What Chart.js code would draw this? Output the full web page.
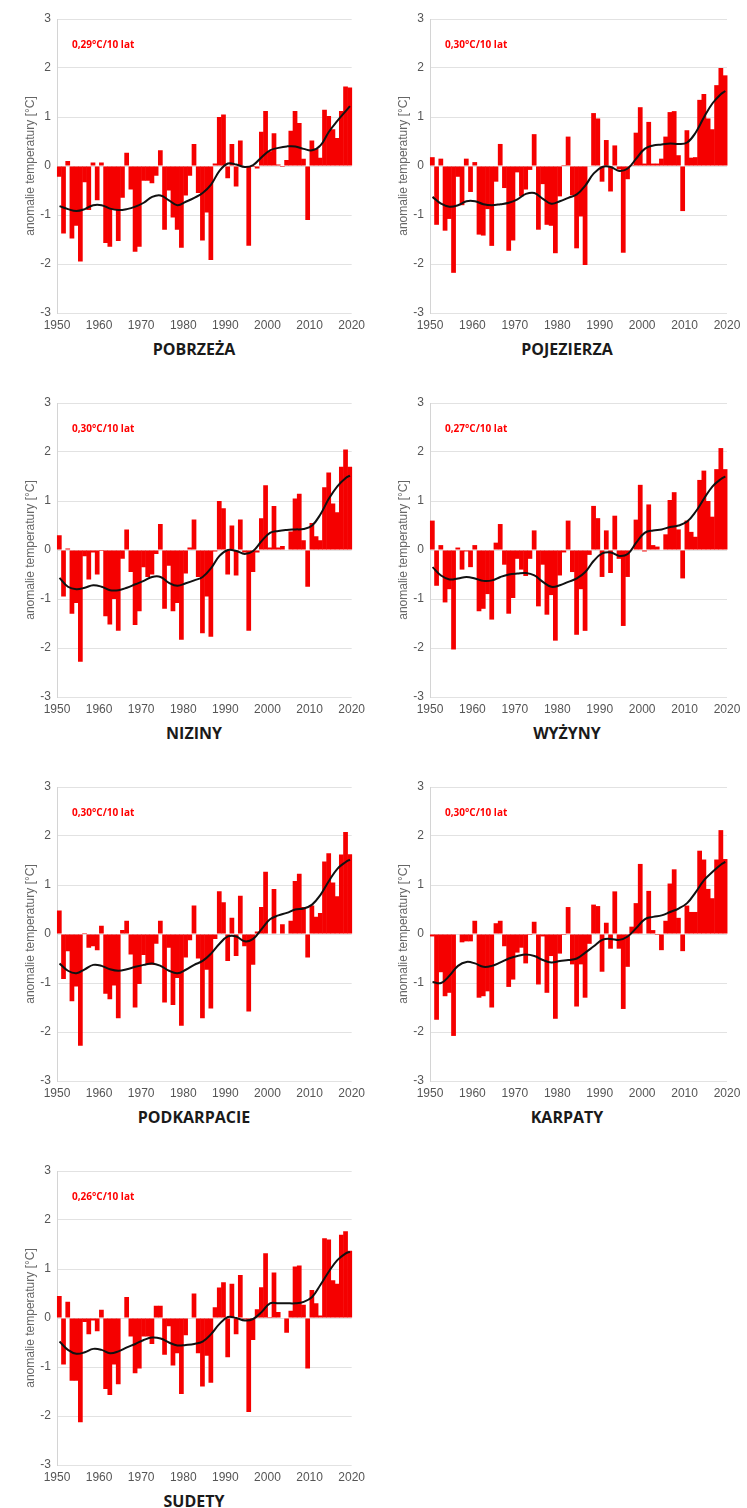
<!DOCTYPE html>
<html><head><meta charset="utf-8">
<script src="https://cdn.jsdelivr.net/npm/chart.js@4.4.1/dist/chart.umd.min.js"></script>
<style>
body{margin:0;background:#fff;width:747px;height:1508px;position:relative;overflow:hidden;font-family:'Open Sans',sans-serif}
.panel{position:absolute}
.panel canvas{display:block}
.title{position:absolute;font-weight:700;font-size:16px;color:#1a1a1a;transform:translate(-50%,-50%);white-space:nowrap;font-family:'Open Sans',sans-serif}
.trend{position:absolute;font-weight:700;font-size:10px;color:#f00;transform:translateY(-50%);white-space:nowrap;font-family:'Open Sans',sans-serif}
</style></head><body>
<script>
const years = [1951,1952,1953,1954,1955,1956,1957,1958,1959,1960,
1961,1962,1963,1964,1965,1966,1967,1968,1969,1970,
1971,1972,1973,1974,1975,1976,1977,1978,1979,1980,
1981,1982,1983,1984,1985,1986,1987,1988,1989,1990,
1991,1992,1993,1994,1995,1996,1997,1998,1999,2000,
2001,2002,2003,2004,2005,2006,2007,2008,2009,2010,
2011,2012,2013,2014,2015,2016,2017,2018,2019,2020];
const smoothYears = [1951,1953,1955,1957,1959,1961,1963,1965,1967,1969,1971,1973,1975,1977,1979,1981,1983,1985,1987,1989,1991,1993,1995,1997,1999,2001,2003,2005,2007,2009,2011,2013,2015,2017,2019,2020];
const xTicks = [1950,1960,1970,1980,1990,2000,2010,2020];
const yTicks = [-3,-2,-1,0,1,2,3];

const regionNames = ['POBRZEŻA','POJEZIERZA','NIZINY','WYŻYNY','PODKARPACIE','KARPATY','SUDETY'];
const trendLabels = ['0,29°C/10 lat','0,30°C/10 lat','0,30°C/10 lat','0,27°C/10 lat','0,30°C/10 lat','0,30°C/10 lat','0,26°C/10 lat'];

const pobrzezaAnom = [-0.22,-1.38,0.10,-1.48,-1.22,-1.95,-0.33,-0.90,0.07,-0.70,
 0.07,-1.57,-1.65,-0.88,-1.53,-0.65,0.27,-0.48,-1.75,-1.65,
 -0.30,-0.30,-0.35,-0.20,0.32,-1.30,-0.50,-1.05,-1.30,-1.67,
 -0.60,-0.20,0.45,-0.55,-1.52,-0.95,-1.92,0.05,1.00,1.05,
 -0.25,0.45,-0.42,0.52,-0.02,-1.63,-0.02,-0.05,0.70,1.12,
 0.30,0.67,0.03,-0.02,0.12,0.72,1.12,0.88,0.15,-1.10,
 0.52,0.35,0.17,1.15,1.02,0.75,0.57,1.12,1.62,1.60];
const pobrzezaSmooth = [-0.82,-0.88,-0.92,-0.88,-0.80,-0.80,-0.87,-0.90,-0.88,-0.83,-0.75,-0.63,-0.60,-0.70,-0.80,-0.73,-0.65,-0.55,-0.38,-0.10,0.05,0.03,-0.02,0.02,0.18,0.32,0.37,0.40,0.40,0.35,0.32,0.42,0.70,0.92,1.12,1.22];

const pojezierzaAnom = [0.18,-1.20,0.15,-1.32,-1.08,-2.18,-0.22,-0.80,0.15,-0.53,
 0.08,-1.40,-1.42,-0.88,-1.63,-0.32,0.45,-0.45,-1.73,-1.52,
 -0.13,-0.62,-0.48,-0.08,0.65,-1.30,-0.37,-1.20,-1.22,-1.78,
 -0.62,0.02,0.60,-0.60,-1.68,-1.03,-2.02,0.00,1.08,0.97,
 -0.32,0.53,-0.52,0.42,-0.07,-1.77,-0.27,0.02,0.68,1.20,
 0.05,0.90,0.05,0.05,0.15,0.60,1.10,1.12,0.22,-0.92,
 0.73,0.17,0.18,1.35,1.47,0.97,0.75,1.65,2.00,1.85];
const pojezierzaSmooth = [-0.63,-0.77,-0.83,-0.80,-0.72,-0.72,-0.78,-0.80,-0.78,-0.75,-0.68,-0.57,-0.55,-0.67,-0.77,-0.72,-0.65,-0.58,-0.40,-0.15,-0.02,-0.02,-0.10,-0.05,0.15,0.35,0.42,0.44,0.46,0.45,0.48,0.68,1.00,1.28,1.47,1.53];

const nizinyAnom = [0.30,-0.95,0.03,-1.30,-1.08,-2.28,-0.13,-0.60,-0.05,-0.50,
 -0.02,-1.35,-1.52,-1.00,-1.65,-0.18,0.42,-0.45,-1.53,-1.25,
 -0.35,-0.55,-0.50,-0.08,0.53,-1.20,-0.32,-1.25,-1.08,-1.83,
 -0.48,0.05,0.62,-0.55,-1.70,-0.95,-1.77,-0.03,1.00,0.85,
 -0.50,0.50,-0.52,0.62,-0.05,-1.65,-0.45,-0.05,0.65,1.32,
 0.05,0.90,0.05,0.08,0.00,0.38,1.05,1.15,0.20,-0.75,
 0.55,0.28,0.20,1.28,1.58,0.95,0.77,1.70,2.05,1.70];
const nizinySmooth = [-0.57,-0.75,-0.80,-0.77,-0.72,-0.75,-0.82,-0.82,-0.77,-0.70,-0.63,-0.55,-0.55,-0.67,-0.73,-0.68,-0.62,-0.55,-0.37,-0.12,0.00,-0.02,-0.08,-0.02,0.18,0.35,0.39,0.41,0.42,0.43,0.50,0.73,1.05,1.30,1.47,1.52];

const wyzynyAnom = [0.60,-0.73,0.10,-1.07,-0.80,-2.03,0.05,-0.40,-0.03,-0.35,
 0.10,-1.25,-1.20,-0.90,-1.42,0.15,0.53,-0.30,-1.30,-0.98,
 -0.18,-0.40,-0.53,-0.18,0.40,-1.15,-0.30,-1.32,-0.92,-1.85,
 -0.52,-0.05,0.60,-0.45,-1.73,-0.80,-1.65,-0.10,0.90,0.65,
 -0.55,0.40,-0.47,0.70,-0.18,-1.55,-0.55,0.00,0.62,1.33,
 -0.03,0.93,0.10,0.07,0.00,0.32,1.02,1.18,0.42,-0.58,
 0.60,0.37,0.27,1.43,1.62,1.00,0.68,1.65,2.08,1.65];
const wyzynySmooth = [-0.35,-0.52,-0.60,-0.58,-0.55,-0.58,-0.63,-0.62,-0.55,-0.50,-0.48,-0.47,-0.52,-0.65,-0.75,-0.72,-0.65,-0.58,-0.45,-0.22,-0.07,-0.05,-0.12,-0.08,0.15,0.35,0.40,0.42,0.47,0.50,0.58,0.78,1.05,1.30,1.45,1.50];

const podkarpacieAnom = [0.48,-0.92,-0.35,-1.37,-1.07,-2.28,0.02,-0.28,-0.25,-0.33,
 0.17,-1.22,-1.33,-1.05,-1.72,0.08,0.27,-0.42,-1.50,-1.02,
 -0.43,-0.62,-0.63,-0.20,0.27,-1.40,-0.28,-1.45,-0.90,-1.87,
 -0.48,-0.13,0.58,-0.50,-1.72,-0.73,-1.52,-0.10,0.87,0.65,
 -0.55,0.33,-0.45,0.78,-0.25,-1.58,-0.63,0.05,0.55,1.27,
 0.00,0.92,0.00,0.20,0.00,0.27,1.08,1.23,0.55,-0.48,
 0.58,0.35,0.43,1.48,1.65,1.05,0.77,1.62,2.08,1.63];
const podkarpacieSmooth = [-0.60,-0.75,-0.80,-0.72,-0.63,-0.65,-0.72,-0.75,-0.72,-0.67,-0.63,-0.60,-0.65,-0.75,-0.80,-0.73,-0.63,-0.55,-0.40,-0.20,-0.05,-0.05,-0.15,-0.10,0.10,0.30,0.38,0.43,0.50,0.52,0.60,0.80,1.08,1.33,1.47,1.52];

const karpatyAnom = [-0.05,-1.75,-0.78,-1.27,-1.20,-2.08,0.00,-0.17,-0.15,-0.15,
 0.27,-1.30,-1.27,-1.17,-1.50,0.22,0.27,-0.25,-1.08,-0.93,
 -0.38,-0.28,-0.60,-0.02,0.25,-1.03,-0.05,-1.20,-0.45,-1.73,
 -0.40,-0.02,0.55,-0.62,-1.48,-0.62,-1.30,-0.20,0.60,0.57,
 -0.77,0.23,-0.30,0.87,-0.30,-1.53,-0.67,0.15,0.63,1.43,
 0.00,0.88,0.08,-0.02,-0.33,0.27,1.03,1.32,0.33,-0.35,
 0.58,0.45,0.45,1.70,1.52,0.92,0.73,1.52,2.12,1.53];
const karpatySmooth = [-0.98,-1.00,-0.85,-0.65,-0.57,-0.60,-0.67,-0.65,-0.58,-0.50,-0.45,-0.42,-0.45,-0.53,-0.58,-0.55,-0.53,-0.50,-0.38,-0.25,-0.12,-0.10,-0.12,-0.05,0.12,0.30,0.35,0.38,0.45,0.52,0.63,0.85,1.10,1.27,1.42,1.47];

const sudetyAnom = [0.45,-0.95,0.33,-1.28,-1.28,-2.13,-0.08,-0.33,-0.05,-0.27,
 0.17,-1.45,-1.57,-0.95,-1.35,0.00,0.43,-0.38,-1.13,-1.03,
 -0.38,-0.38,-0.53,0.25,0.25,-0.75,-0.17,-0.97,-0.72,-1.55,
 -0.35,0.00,0.50,-0.72,-1.40,-0.77,-1.32,0.22,0.62,0.73,
 -0.80,0.70,-0.33,0.88,-0.03,-1.92,-0.45,0.18,0.63,1.32,
 0.02,0.93,0.12,0.00,-0.30,0.15,1.05,1.07,0.27,-1.03,
 0.57,0.30,0.05,1.63,1.60,0.77,0.70,1.70,1.77,1.37];
const sudetySmooth = [-0.48,-0.65,-0.73,-0.70,-0.63,-0.65,-0.72,-0.68,-0.60,-0.53,-0.45,-0.40,-0.42,-0.50,-0.56,-0.55,-0.53,-0.48,-0.33,-0.12,0.02,0.00,-0.05,-0.02,0.12,0.30,0.30,0.30,0.30,0.33,0.43,0.68,0.95,1.18,1.32,1.35];

const barSeries = [pobrzezaAnom,pojezierzaAnom,nizinyAnom,wyzynyAnom,podkarpacieAnom,karpatyAnom,sudetyAnom];
const smoothSeries = [pobrzezaSmooth,pojezierzaSmooth,nizinySmooth,wyzynySmooth,podkarpacieSmooth,karpatySmooth,sudetySmooth];

const axisFont = {family:"'Liberation Sans', Arial, sans-serif", size:12};

regionNames.forEach((name, i) => {
  const col = i % 2, row = Math.floor(i / 2);
  const left = col * 373, top = row * 384;
  const w = col ? 374 : 370, h = 335;
  const div = document.createElement('div');
  div.className = 'panel';
  div.style.left = left + 'px'; div.style.top = top + 'px';
  const cv = document.createElement('canvas');
  cv.width = w; cv.height = h; cv.style.width = w + 'px'; cv.style.height = h + 'px';
  div.appendChild(cv);
  document.body.appendChild(div);

  const t = document.createElement('div');
  t.className = 'title'; t.textContent = name;
  t.style.left = (194 + 373 * col) + 'px'; t.style.top = (348.7 + 384 * row) + 'px';
  document.body.appendChild(t);

  const tr = document.createElement('div');
  tr.className = 'trend'; tr.textContent = trendLabels[i];
  tr.style.left = (72 + 373 * col) + 'px'; tr.style.top = (44.3 + 384 * row) + 'px';
  document.body.appendChild(tr);

  new Chart(cv, {
    type: 'bar',
    data: {
      datasets: [
        {type:'line', data: smoothYears.map((y,k)=>({x:y-0.4, y:smoothSeries[i][k]})),
         borderColor:'#111', borderWidth:2, pointRadius:0, tension:0.4, fill:false, order:0},
        {type:'bar', data: years.map((y,k)=>({x:y-0.45, y:barSeries[i][k]})),
         backgroundColor:'#f50000', borderWidth:0, barPercentage:1.12, categoryPercentage:1, order:1, clip:4}
      ]
    },
    options: {
      responsive:false, animation:false, events:[],
      layout:{padding:{top:19, left:0, right: col ? 20 : 16, bottom:0}},
      plugins:{legend:{display:false}, tooltip:{enabled:false}},
      scales:{
        x:{type:'linear', min:1950, max:2020, offset:false,
           grid:{display:false, drawTicks:false}, border:{display:false},
           afterBuildTicks(s){ s.ticks = xTicks.map(v=>({value:v})); },
           ticks:{padding:5, color:'#555', font:axisFont, maxRotation:0, autoSkip:false, callback:v=>String(v)},
           afterFit(s){ s.height = 22; }},
        y:{min:-3, max:3,
           afterBuildTicks(s){ s.ticks = yTicks.map(v=>({value:v})); },
           grid:{color:'#e2e2e2', drawTicks:false}, border:{display:true, color:'#d4d4d4'},
           ticks:{padding:6, color:'#555', font:axisFont, callback:v=>String(v)},
           title:{display:true, text:'anomalie temperatury [°C]', color:'#666',
                  font:{family:"'Liberation Sans', Arial, sans-serif", size:12}, padding:{top:23, bottom:0}},
           afterFit(s){ s.width = 57; }}
      }
    }
  });
});
</script>
</body></html>
